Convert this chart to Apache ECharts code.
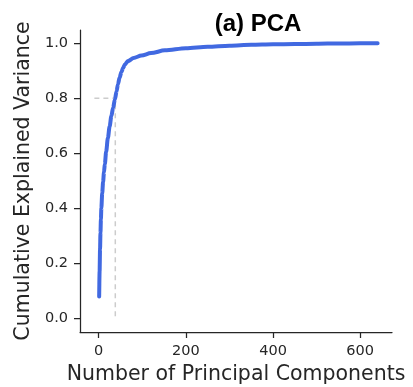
<!DOCTYPE html>
<html><head><meta charset="utf-8">
<script src="https://cdn.jsdelivr.net/npm/echarts@6/dist/echarts.min.js"></script>
<style>html,body{margin:0;padding:0;background:#fff}#c{width:413px;height:387px}</style>
</head><body><div id="c"></div>
<script>
const components = [1,2,3,4,5,6,8,10,12,14,17,21,25,29,33,37,41,44,48,52,56,60,67,80,98,120,152,200,250,300,350,400,450,500,550,600,640];
const cumVariance = [0.078,0.17,0.25,0.31,0.36,0.40,0.455,0.495,0.53,0.56,0.605,0.655,0.697,0.735,0.765,0.795,0.825,0.85,0.875,0.895,0.91,0.922,0.935,0.946,0.955,0.964,0.974,0.982,0.987,0.991,0.994,0.996,0.997,0.998,0.999,0.9995,1.0];
const thresholdX = [-10,38,38];
const thresholdY = [0.8,0.8,0];
const xTicks = [0,200,400,600];
const yTicks = [0,0.2,0.4,0.6,0.8,1.0];

const curve = components.map((x,i)=>[x,cumVariance[i]]);
const thr = thresholdX.map((x,i)=>[x,thresholdY[i]]);
const axisCol = '#262626';
const chart = echarts.init(document.getElementById('c'));
chart.setOption({
  animation:false,
  title:{text:'(a) PCA',left:253,top:7,textAlign:'center',textStyle:{fontFamily:'Liberation Sans',fontWeight:'bold',fontSize:24,color:'#000'}},
  grid:{left:80,right:21,top:30,bottom:55,outerBoundsMode:'none',containLabel:false},
  xAxis:{type:'value',min:-43,max:673,
    name:'Number of Principal Components',nameLocation:'middle',nameGap:31,
    nameTextStyle:{fontFamily:'DejaVu Sans',fontSize:20.5,color:axisCol},
    splitLine:{show:false},
    axisLine:{onZero:false,lineStyle:{color:axisCol,width:1.25}},
    axisTick:{customValues:xTicks,length:6,lineStyle:{color:axisCol,width:1.25}},
    axisLabel:{customValues:xTicks,fontFamily:'DejaVu Sans',fontSize:14.5,color:axisCol,margin:12}},
  yAxis:{type:'value',min:-0.051,max:1.048,
    name:'Cumulative Explained Variance',nameLocation:'middle',nameGap:41,
    nameTextStyle:{fontFamily:'DejaVu Sans',fontSize:20.5,color:axisCol},
    splitLine:{show:false},
    axisLine:{show:true,onZero:false,lineStyle:{color:axisCol,width:1.25}},
    axisTick:{show:true,customValues:yTicks,length:6,lineStyle:{color:axisCol,width:1.25}},
    axisLabel:{customValues:yTicks,fontFamily:'DejaVu Sans',fontSize:14.5,color:axisCol,margin:12,formatter:v=>v.toFixed(1)}},
  series:[
    {type:'line',data:thr,showSymbol:false,symbol:'none',lineStyle:{color:'#cccccc',width:1.5,type:[5,4]},z:1},
    {type:'line',data:curve,showSymbol:false,symbol:'none',smooth:0.3,smoothMonotone:'x',lineStyle:{color:'#4169e1',width:4,cap:'round'},z:2}
  ]
});
</script></body></html>
